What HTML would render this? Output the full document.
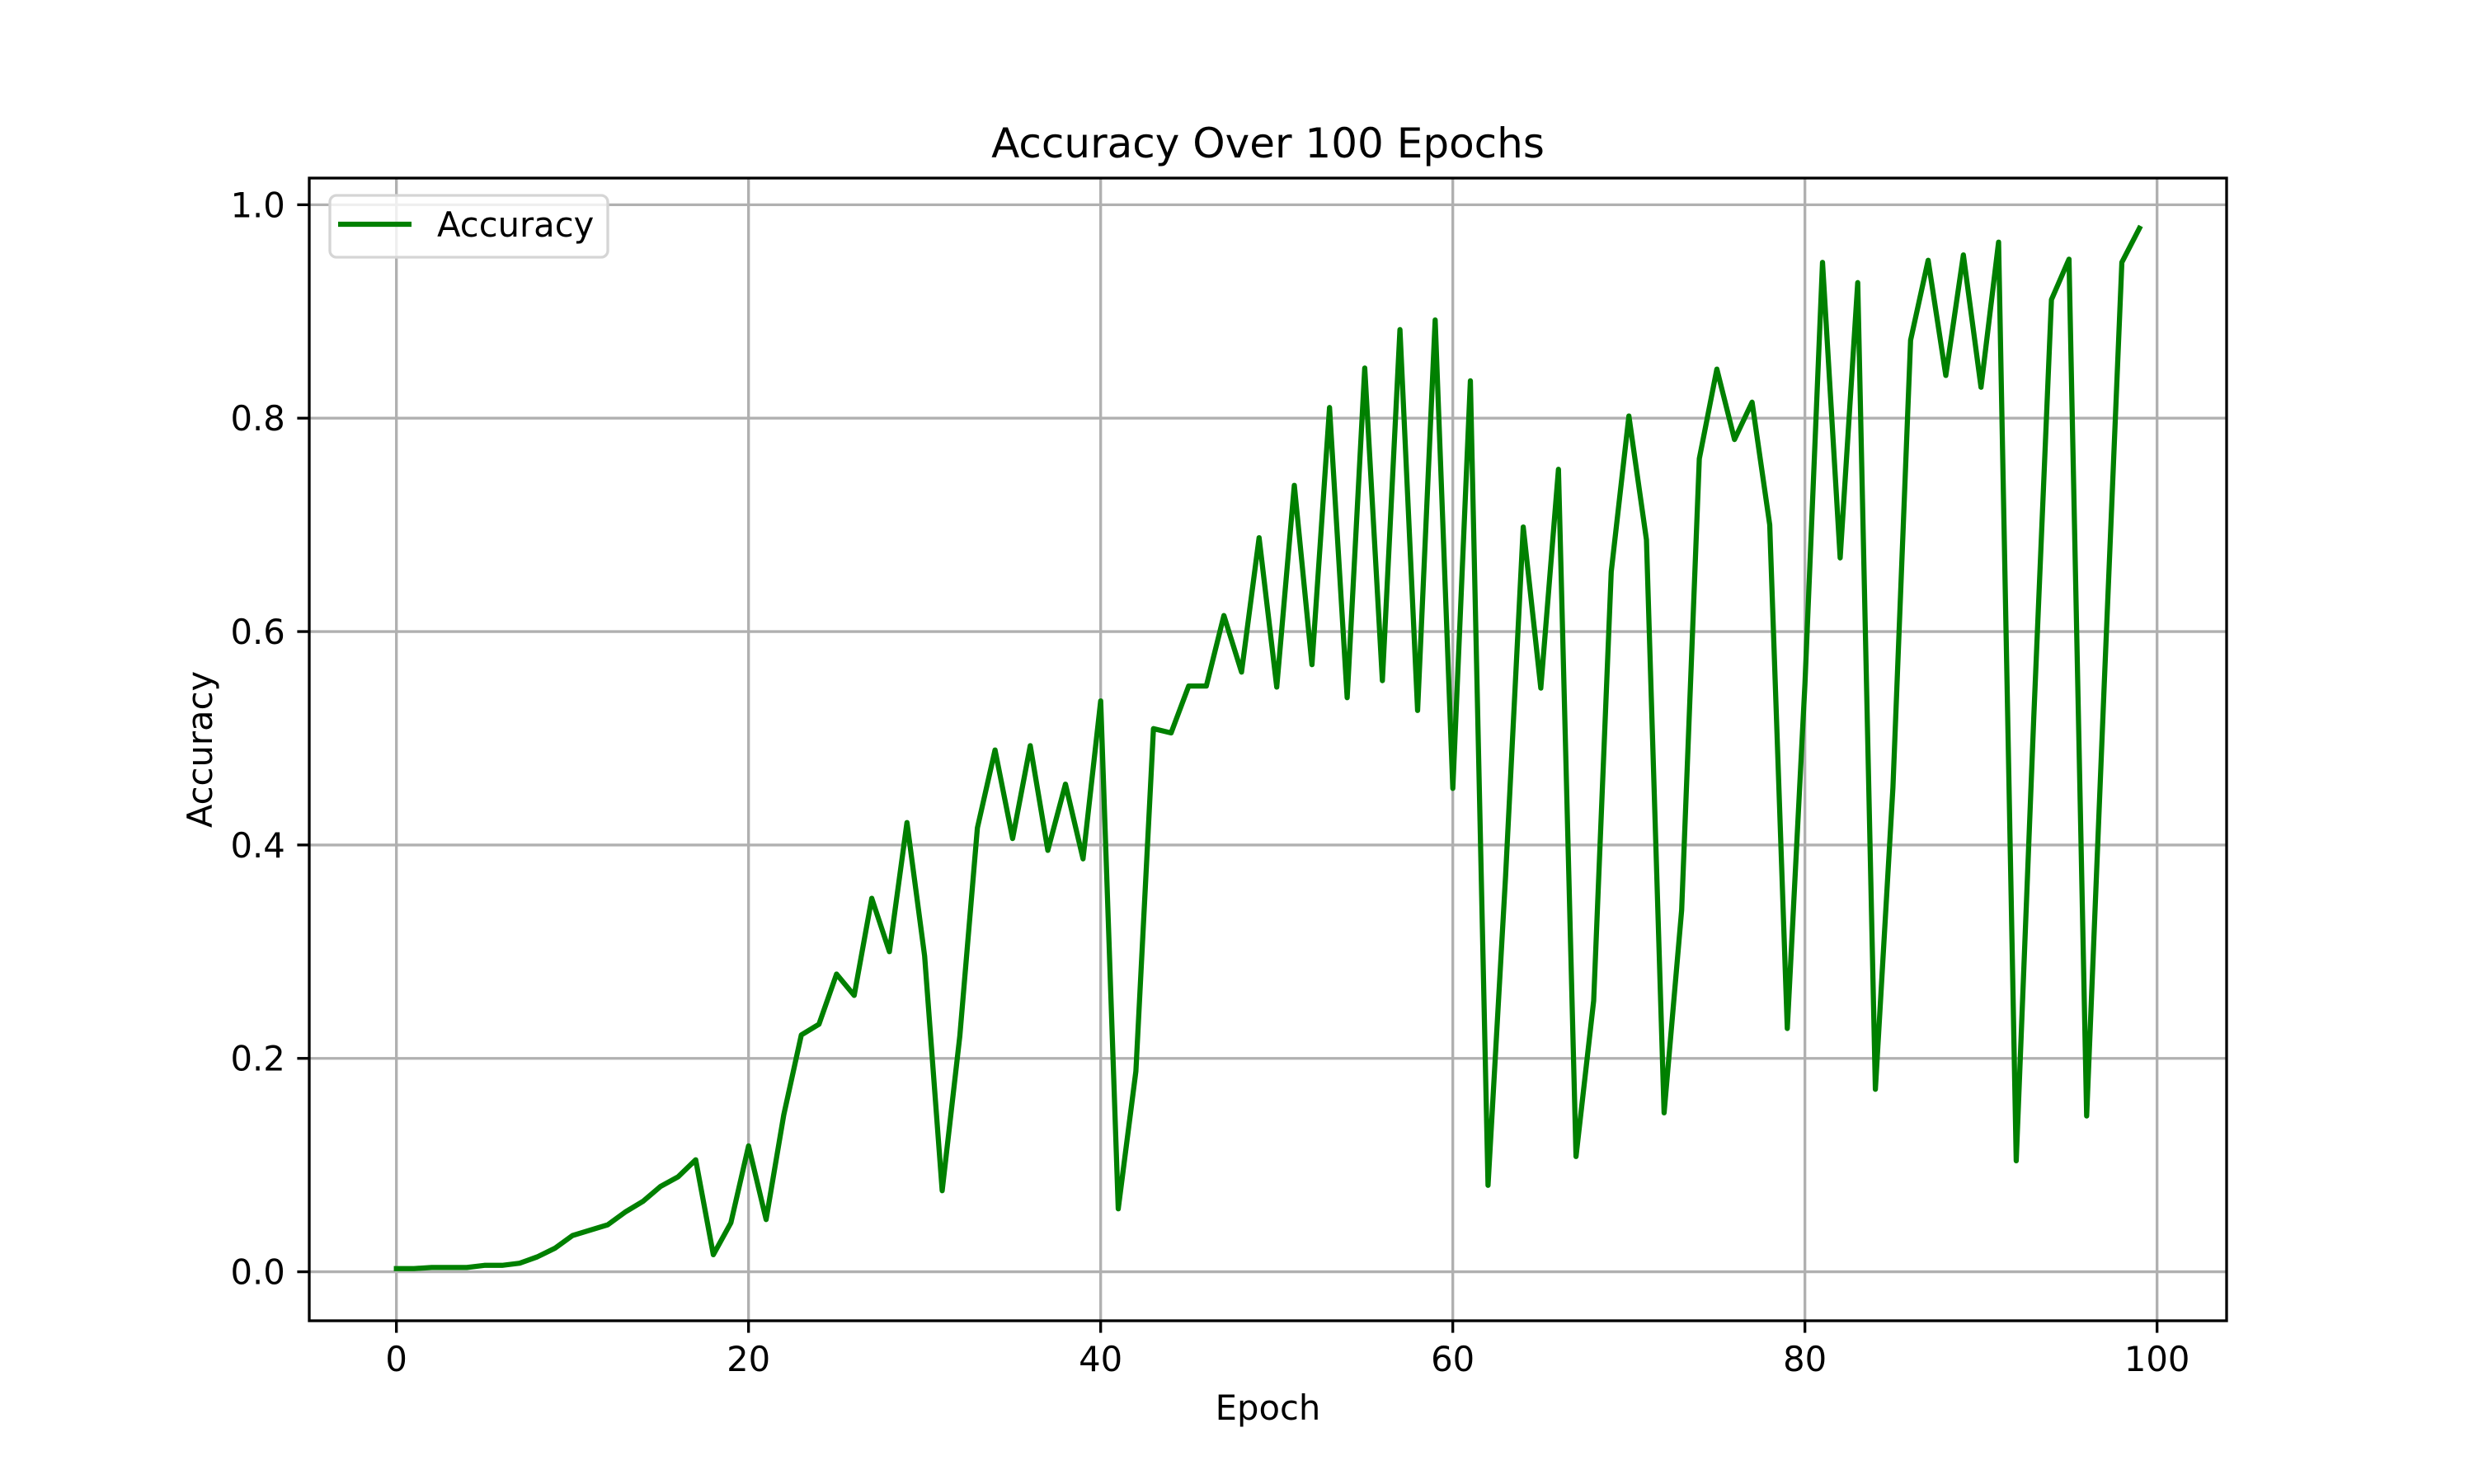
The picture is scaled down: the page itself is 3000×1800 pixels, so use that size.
<!DOCTYPE html>
<html><head><meta charset="utf-8"><style>
html,body{margin:0;padding:0;background:#fff}
svg{display:block}
text{font-family:"DejaVu Sans","Liberation Sans",sans-serif;fill:#000}
</style></head><body>
<svg id="chart" width="3000" height="1800" viewBox="0 0 3000 1800" xmlns="http://www.w3.org/2000/svg">
<rect x="0" y="0" width="3000" height="1800" fill="#fff"/>
<g id="grid"></g>
<g id="series"></g>
<rect x="375" y="216" width="2325" height="1386" fill="none" stroke="#000" stroke-width="3.33"/>
<g id="ticks"></g>
<text x="1537.5" y="191" font-size="50" text-anchor="middle">Accuracy Over 100 Epochs</text>
<text x="1537.5" y="1722" font-size="41.7" text-anchor="middle">Epoch</text>
<text x="0" y="0" font-size="41.7" text-anchor="middle" transform="translate(257,909) rotate(-90)">Accuracy</text>
<g>
<rect x="400" y="237" width="337" height="75" rx="8" fill="#fff" fill-opacity="0.8" stroke="#d5d5d5" stroke-width="3.33"/>
<line x1="410" y1="272" x2="499" y2="272" stroke="#008000" stroke-width="6.25"/>
<text x="530" y="287" font-size="41.7">Accuracy</text>
</g>
</svg>
<script>
const epochs = Array.from({length:100},(_,i)=>i);
const accuracy = [0.003,0.003,0.004,0.004,0.004,0.006,0.006,0.008,0.014,0.022,
0.034,0.039,0.044,0.056,0.066,0.080,0.089,0.105,0.016,0.046,
0.118,0.049,0.147,0.222,0.232,0.279,0.259,0.350,0.300,0.421,
0.296,0.076,0.221,0.416,0.489,0.406,0.493,0.395,0.457,0.387,
0.535,0.059,0.188,0.509,0.505,0.549,0.549,0.615,0.562,0.688,
0.548,0.737,0.569,0.810,0.538,0.847,0.554,0.883,0.526,0.892,
0.453,0.835,0.081,0.371,0.698,0.547,0.752,0.108,0.254,0.656,
0.802,0.686,0.149,0.339,0.762,0.846,0.780,0.815,0.700,0.228,
0.551,0.946,0.669,0.927,0.171,0.454,0.873,0.948,0.840,0.953,
0.829,0.965,0.104,0.520,0.911,0.949,0.146,0.550,0.946,0.978];
const xTicks = [0,20,40,60,80,100];
const yTicks = [0.0,0.2,0.4,0.6,0.8,1.0];
const yTickLabels = ["0.0","0.2","0.4","0.6","0.8","1.0"];

const NS="http://www.w3.org/2000/svg";
const X0=375,X1=2700,Y0=216,Y1=1602;
const xmin=-4.95,xmax=103.95,ymin=-0.0459,ymax=1.025;
const sx=v=>X0+(v-xmin)/(xmax-xmin)*(X1-X0);
const sy=v=>Y1-(v-ymin)/(ymax-ymin)*(Y1-Y0);
function mk(tag,attrs,parent){const e=document.createElementNS(NS,tag);for(const k in attrs)e.setAttribute(k,attrs[k]);parent.appendChild(e);return e;}
const grid=document.getElementById('grid'),ticks=document.getElementById('ticks'),series=document.getElementById('series');
xTicks.forEach(t=>{
  const x=sx(t);
  const g=mk('line',{x1:x,y1:Y0,x2:x,y2:Y1,stroke:'#b0b0b0','stroke-width':3.33},grid);
  
  
  const tk=mk('line',{x1:x,y1:Y1,x2:x,y2:Y1+14.6,stroke:'#000','stroke-width':3.33},ticks);
  
  
  const tx=mk('text',{x:x,y:Y1+14.6+14.6+32,'font-size':41.7,'text-anchor':'middle'},ticks);
  tx.textContent=String(t);
  
  
});
yTicks.forEach((t,i)=>{
  const y=sy(t);
  const g=mk('line',{x1:X0,y1:y,x2:X1,y2:y,stroke:'#b0b0b0','stroke-width':3.33},grid);
  
  
  const tk=mk('line',{x1:X0-14.6,y1:y,x2:X0,y2:y,stroke:'#000','stroke-width':3.33},ticks);
  
  
  const tx=mk('text',{x:X0-14.6-14.6,y:y+15,'font-size':41.7,'text-anchor':'end'},ticks);
  tx.textContent=yTickLabels[i];
  
  
});
const pts=epochs.map((e,i)=>sx(e).toFixed(1)+','+sy(accuracy[i]).toFixed(1)).join(' ');
const pl=mk('polyline',{points:pts,fill:'none',stroke:'#008000','stroke-width':6.25,'stroke-linejoin':'round','stroke-linecap':'square'},series);


</script>
</body></html>
